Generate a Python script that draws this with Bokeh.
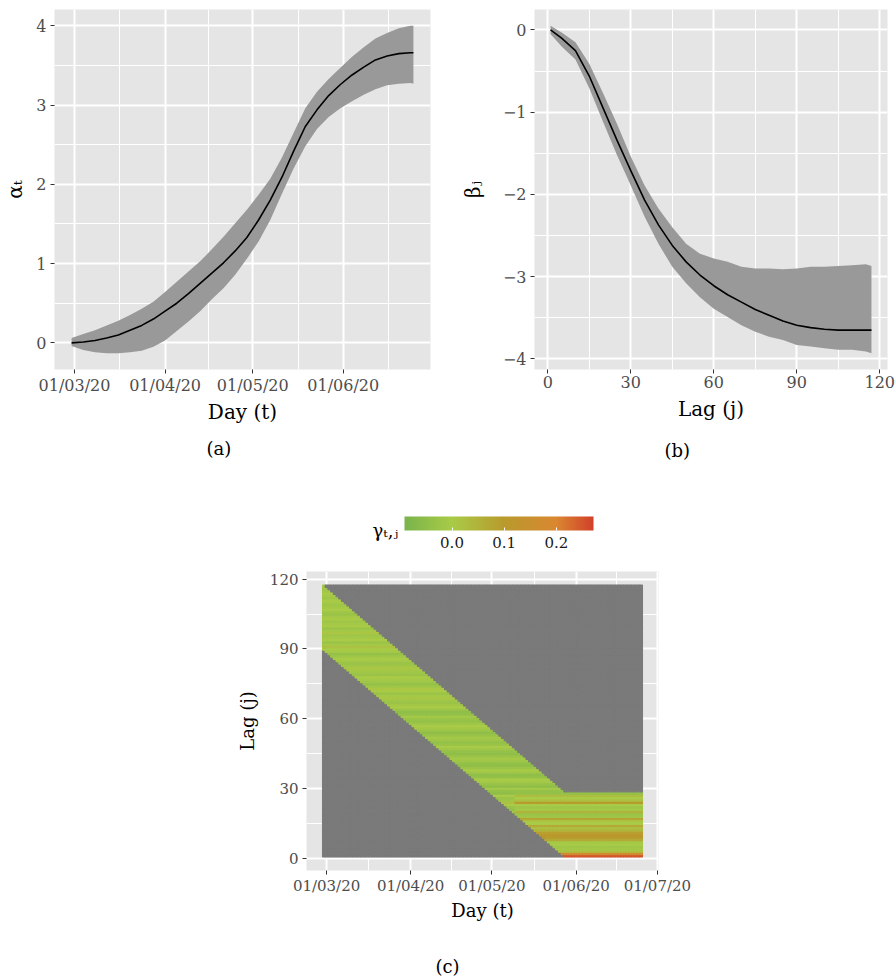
import numpy as np
import pandas as pd
from bokeh.plotting import figure
from bokeh.layouts import column, row
from bokeh.models import (Range1d, FixedTicker, DatetimeTickFormatter, Title, ColorBar,
                          LinearColorMapper, ColumnDataSource, PrintfTickFormatter)
from bokeh.embed import file_html
from bokeh.resources import INLINE

FONT = "DejaVu Serif"
DAY_MS = 86400000.0

# ---------------- (a) alpha_t ----------------
alpha_dates = ["2020-02-29", "2020-03-04", "2020-03-08", "2020-03-12", "2020-03-16", "2020-03-20",
               "2020-03-24", "2020-03-28", "2020-04-01", "2020-04-05", "2020-04-09", "2020-04-13",
               "2020-04-17", "2020-04-21", "2020-04-25", "2020-04-29", "2020-05-03", "2020-05-07",
               "2020-05-11", "2020-05-15", "2020-05-19", "2020-05-23", "2020-05-27", "2020-05-31",
               "2020-06-04", "2020-06-08", "2020-06-12", "2020-06-16", "2020-06-20", "2020-06-24",
               "2020-06-25"]
alpha_mean = [0.00, 0.01, 0.03, 0.06, 0.10, 0.16, 0.22, 0.30, 0.40, 0.50, 0.62, 0.75, 0.88, 1.01,
              1.16, 1.33, 1.55, 1.80, 2.09, 2.42, 2.73, 2.94, 3.12, 3.26, 3.38, 3.48, 3.57, 3.62,
              3.65, 3.66, 3.66]
alpha_high = [0.06, 0.11, 0.16, 0.22, 0.28, 0.35, 0.43, 0.52, 0.64, 0.77, 0.90, 1.03, 1.18, 1.34,
              1.51, 1.68, 1.87, 2.07, 2.34, 2.65, 2.96, 3.17, 3.33, 3.47, 3.61, 3.73, 3.84, 3.91,
              3.97, 4.00, 4.00]
alpha_low = [-0.04, -0.09, -0.12, -0.13, -0.13, -0.12, -0.10, -0.05, 0.03, 0.15, 0.27, 0.40, 0.55,
             0.69, 0.86, 1.06, 1.28, 1.55, 1.88, 2.20, 2.48, 2.70, 2.85, 2.96, 3.05, 3.13, 3.20,
             3.25, 3.27, 3.28, 3.27]
alpha_ticks = [0, 1, 2, 3, 4]
date_ticks_a = ["2020-03-01", "2020-04-01", "2020-05-01", "2020-06-01"]

# ---------------- (b) beta_j ----------------
beta_lags = [1, 5, 10, 15, 20, 25, 30, 35, 40, 45, 50, 55, 60, 65, 70, 75, 80, 85, 90, 95, 100,
             105, 110, 115, 117]
beta_mean = [0.00, -0.10, -0.25, -0.56, -0.95, -1.34, -1.71, -2.07, -2.37, -2.62, -2.82, -2.98,
             -3.11, -3.22, -3.31, -3.40, -3.47, -3.54, -3.59, -3.62, -3.64, -3.65, -3.65, -3.65,
             -3.65]
beta_high = [0.05, -0.03, -0.15, -0.41, -0.77, -1.14, -1.54, -1.89, -2.17, -2.40, -2.60, -2.72,
             -2.78, -2.82, -2.88, -2.90, -2.90, -2.91, -2.90, -2.88, -2.88, -2.87, -2.86, -2.85,
             -2.87]
beta_low = [-0.05, -0.20, -0.36, -0.71, -1.12, -1.52, -1.89, -2.27, -2.60, -2.88, -3.08, -3.25,
            -3.39, -3.49, -3.59, -3.67, -3.73, -3.77, -3.83, -3.85, -3.87, -3.89, -3.89, -3.91,
            -3.93]
beta_ticks = [0, -1, -2, -3, -4]
lag_ticks = [0, 30, 60, 90, 120]

# ---------------- (c) gamma_{t,j} ----------------
heat_first_day = "2020-02-29"
heat_last_day = "2020-06-25"
heat_lags = list(range(1, 118))
band_top_first = 117      # highest observed lag on the first day
band_top_floor = 28       # highest observed lag once the window stops moving
band_width = 28           # number of observed lags per day
recent_from = "2020-05-10"
gamma_lag = [0.00, -0.01, -0.03, -0.04, -0.02, -0.01, -0.04, 0.00, 0.01, -0.02,
             -0.03, 0.00, -0.02, 0.01, -0.03, -0.02, 0.01, -0.04, -0.05, -0.01,
             -0.04, -0.03, 0.00, 0.02, -0.02, -0.03, 0.00, -0.05, -0.04, -0.01,
             -0.05, -0.03, -0.01, 0.00, -0.04, -0.05, -0.02, 0.00, -0.03, -0.05,
             -0.04, -0.02, -0.01, -0.03, -0.05, -0.04, -0.02, 0.00, -0.03, -0.04,
             -0.02, -0.01, -0.03, -0.05, -0.03, -0.01, 0.00, -0.02, -0.04, -0.03,
             -0.01, -0.04, -0.05, -0.03, 0.00, -0.01, -0.03, -0.02, 0.01, -0.01,
             -0.03, 0.00, 0.01, -0.02, -0.04, -0.02, -0.01, 0.00, -0.03, -0.02,
             -0.01, 0.01, -0.02, -0.03, -0.01, 0.00, -0.02, -0.04, -0.01, 0.00,
             0.02, -0.01, -0.03, 0.00, -0.01, -0.02, 0.01, -0.01, -0.03, 0.00,
             -0.01, -0.02, 0.00, -0.01, -0.03, -0.02, 0.00, -0.01, -0.02, -0.01,
             0.00, -0.02, -0.01, 0.00, -0.01, -0.02, -0.01]
gamma_recent = [0.25, 0.17, 0.02, -0.01, -0.02, 0.00, -0.01, 0.07, 0.10, 0.11,
                0.09, 0.05, 0.02, 0.07, 0.00, 0.01, 0.08, -0.02, -0.03, 0.05,
                -0.01, -0.02, 0.00, 0.10, 0.02, 0.00, 0.03, -0.04]
gamma_low, gamma_high = -0.091, 0.271
gamma_ticks = [0.0, 0.1, 0.2]
gamma_anchor_vals = [-0.091, 0.0, 0.1, 0.2, 0.271]
gamma_anchor_cols = ["#7AB44B", "#A9CB47", "#B99A2D", "#DA8731", "#D2412A"]
date_ticks_c = ["2020-03-01", "2020-04-01", "2020-05-01", "2020-06-01", "2020-07-01"]


# ---------------- helpers ----------------
def ms(s):
    return pd.Timestamp(s).value / 1e6


def minor_between(t):
    m = [(a + b) / 2 for a, b in zip(t[:-1], t[1:])]
    return [t[0] - (t[1] - t[0]) / 2] + m + [t[-1] + (t[-1] - t[-2]) / 2]


def expand(lo, hi, f=0.05):
    d = (hi - lo) * f
    return Range1d(lo - d, hi + d)


def style(p, xt, yt, tick_size, title_size, x_title_standoff, y_title_standoff):
    p.background_fill_color = "#E5E5E5"
    p.border_fill_color = "white"
    p.outline_line_color = None
    for ax, grid, t in ((p.xaxis[0], p.xgrid[0], xt), (p.yaxis[0], p.ygrid[0], yt)):
        tk = FixedTicker(ticks=t, minor_ticks=minor_between(t))
        ax.ticker = tk
        grid.ticker = tk
        ax.axis_line_color = None
        ax.major_tick_line_color = "#333333"
        ax.major_tick_line_width = 1
        ax.major_tick_in = 0
        ax.major_tick_out = 4
        ax.minor_tick_line_color = None
        ax.major_label_text_font = FONT
        ax.major_label_text_font_size = tick_size
        ax.major_label_text_color = "#4D4D4D"
        ax.major_label_standoff = 2
        ax.axis_label_text_font = FONT
        ax.axis_label_text_font_size = title_size
        ax.axis_label_text_font_style = "normal"
        ax.axis_label_text_color = "black"
        grid.grid_line_color = "white"
        grid.grid_line_width = 2
        grid.minor_grid_line_color = "white"
        grid.minor_grid_line_width = 1
    p.yaxis[0].major_label_standoff = 4
    p.xaxis[0].axis_label_standoff = x_title_standoff
    p.yaxis[0].axis_label_standoff = y_title_standoff


def caption(p, text, offset, gap, size="18px"):
    # blank spacer between the x-axis title and the caption, then the caption itself
    p.add_layout(Title(text=" ", text_font_size="1px", standoff=gap), "below")
    p.add_layout(Title(text=text, align="left", offset=offset, standoff=0,
                       text_font=FONT, text_font_size=size, text_font_style="normal",
                       text_color="black"), "below")


date_fmt = DatetimeTickFormatter(milliseconds="%d/%m/%y", seconds="%d/%m/%y", minsec="%d/%m/%y",
                                 minutes="%d/%m/%y", hourmin="%d/%m/%y", hours="%d/%m/%y",
                                 days="%d/%m/%y", months="%d/%m/%y", years="%d/%m/%y")

# ---------------- panel (a) ----------------
a_x = [ms(d) for d in alpha_dates]
src_a = ColumnDataSource(dict(x=a_x, m=alpha_mean, lo=alpha_low, hi=alpha_high))
pa = figure(width=448, height=470, output_backend="svg", toolbar_location=None,
            x_axis_type="datetime",
            x_range=expand(min(a_x), max(a_x)),
            y_range=expand(min(alpha_low), max(alpha_high)),
            min_border_left=54, min_border_right=18, min_border_top=8, min_border_bottom=101)
pa.varea(x="x", y1="lo", y2="hi", source=src_a, fill_color="#999999")
pa.line(x="x", y="m", source=src_a, line_color="black", line_width=1.6)
style(pa, [ms(d) for d in date_ticks_a], alpha_ticks, "16px", "20px", 2, 6)
pa.xaxis[0].formatter = date_fmt
pa.xaxis[0].axis_label = "Day (t)"
pa.yaxis[0].axis_label = "\u03b1\u209c"
caption(pa, "(a)", 152, 6)

# ---------------- panel (b) ----------------
src_b = ColumnDataSource(dict(x=beta_lags, m=beta_mean, lo=beta_low, hi=beta_high))
pb = figure(width=448, height=470, output_backend="svg", toolbar_location=None,
            x_range=expand(min(beta_lags), max(beta_lags)),
            y_range=expand(min(beta_low), max(beta_high)),
            min_border_left=86, min_border_right=9, min_border_top=9, min_border_bottom=101)
pb.varea(x="x", y1="lo", y2="hi", source=src_b, fill_color="#999999")
pb.line(x="x", y="m", source=src_b, line_color="black", line_width=1.6)
style(pb, lag_ticks, beta_ticks, "16px", "20px", 6, 15)
pb.yaxis[0].major_label_overrides = {t: (str(t) if t >= 0 else "\u2212" + str(-t)) for t in beta_ticks}
pb.xaxis[0].axis_label = "Lag (j)"
pb.yaxis[0].axis_label = "\u03b2\u2c7c"
caption(pb, "(b)", 130, 11)

# ---------------- panel (c) ----------------
def hex2rgb(h):
    return [int(h[i:i + 2], 16) for i in (1, 3, 5)]


anchor_rgb = np.array([hex2rgb(c) for c in gamma_anchor_cols], dtype=float)
palette = []
for v in np.linspace(gamma_low, gamma_high, 256):
    rgb = [int(round(np.interp(v, gamma_anchor_vals, anchor_rgb[:, i]))) for i in range(3)]
    palette.append("#%02x%02x%02x" % tuple(rgb))
mapper = LinearColorMapper(palette=palette, low=gamma_low, high=gamma_high, nan_color="#7A7A7A")

heat_dates = pd.date_range(heat_first_day, heat_last_day, freq="D")
recent_ts = pd.Timestamp(recent_from)
cx, cy, cv = [], [], []
for k, d in enumerate(heat_dates):
    top = max(band_top_first - k, band_top_floor)
    bottom = top - band_width + 1
    for j in heat_lags:
        if bottom <= j <= top:
            if j <= len(gamma_recent) and d >= recent_ts:
                v = gamma_recent[j - 1]
            else:
                v = gamma_lag[j - 1]
        else:
            v = np.nan
        cx.append(d.value / 1e6)
        cy.append(j)
        cv.append(v)
src_c = ColumnDataSource(dict(x=cx, y=cy, v=cv))

x_lo = min(cx) - DAY_MS / 2
x_hi = max(cx) + DAY_MS / 2
pc = figure(width=896, height=506, output_backend="svg", toolbar_location=None,
            x_axis_type="datetime",
            x_range=expand(x_lo, x_hi),
            y_range=expand(min(heat_lags) - 0.5, max(heat_lags) + 0.5),
            min_border_left=306, min_border_right=238, min_border_top=101, min_border_bottom=104)
pc.rect(x="x", y="y", width=DAY_MS, height=1, source=src_c,
        fill_color={"field": "v", "transform": mapper},
        line_color={"field": "v", "transform": mapper}, line_width=1.1)
style(pc, [ms(d) for d in date_ticks_c], lag_ticks, "15px", "18px", 2, 9)
pc.xaxis[0].formatter = date_fmt
pc.xaxis[0].axis_label = "Day (t)"
pc.yaxis[0].axis_label = "Lag (j)"

cb = ColorBar(color_mapper=mapper, orientation="horizontal", width=189, height=14,
              location=(98, 320), padding=0, margin=0,
              ticker=FixedTicker(ticks=gamma_ticks), formatter=PrintfTickFormatter(format="%.1f"),
              major_tick_line_color="white", major_tick_in=3, major_tick_out=0,
              minor_tick_line_color=None, bar_line_color=None,
              major_label_text_font=FONT, major_label_text_font_size="15px",
              major_label_text_color="#1A1A1A", label_standoff=6,
              background_fill_alpha=0, border_line_color=None)
pc.add_layout(cb, "center")
pc.add_layout(Title(text="\u03b3\u209c,\u2c7c", align="left", offset=66, standoff=62,
                    text_font=FONT, text_font_size="18px", text_font_style="normal",
                    text_color="black"), "above")
caption(pc, "(c)", 129, 27)

layout = column(row(pa, pb), pc)
open("out.html", "w").write(file_html(layout, INLINE))
